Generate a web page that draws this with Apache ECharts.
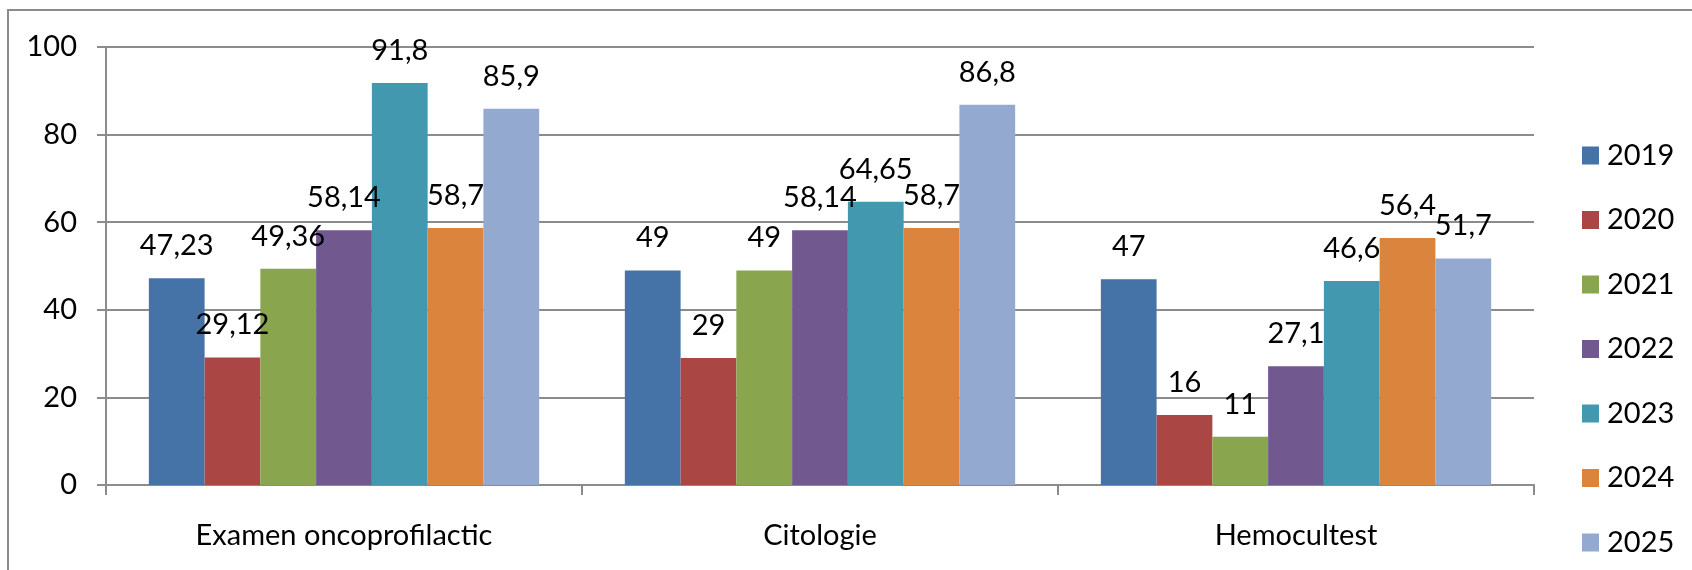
<!DOCTYPE html>
<html>
<head>
<meta charset="utf-8">
<script src="https://cdn.jsdelivr.net/npm/echarts@6/dist/echarts.min.js"></script>
<style>
  html, body { margin: 0; padding: 0; background: #fff; }
  #frame { position: absolute; left: 7px; top: 9px; right: -4px; bottom: -4px; border: 2px solid #8c8c8c; }
  #chart { position: absolute; left: 0; top: 0; width: 1692px; height: 570px; }
</style>
</head>
<body>
<div id="frame"></div>
<div id="chart"></div>
<script>
// Categories and yearly values
var categories = ['Examen oncoprofilactic', 'Citologie', 'Hemocultest'];
var years = ['2019', '2020', '2021', '2022', '2023', '2024', '2025'];
var v2019 = [47.23, 49, 47];
var v2020 = [29.12, 29, 16];
var v2021 = [49.36, 49, 11];
var v2022 = [58.14, 58.14, 27.1];
var v2023 = [91.8, 64.65, 46.6];
var v2024 = [58.7, 58.7, 56.4];
var v2025 = [85.9, 86.8, 51.7];
var yTicks = [0, 20, 40, 60, 80, 100];

var values = [v2019, v2020, v2021, v2022, v2023, v2024, v2025];
var colors = ['#4572A7', '#AA4643', '#89A54E', '#71588F', '#4198AF', '#DB843D', '#93A9CF'];
var font = 'Lato, "Open Sans", sans-serif';

function comma(v) { return String(v).replace('.', ','); }

var chart = echarts.init(document.getElementById('chart'));
chart.setOption({
  animation: false,
  backgroundColor: 'transparent',
  textStyle: { fontFamily: font },
  grid: { left: 106, right: 158, top: 47, bottom: 85, containLabel: false },
  legend: {
    orient: 'vertical',
    left: 1577, top: 136,
    itemWidth: 17, itemHeight: 18, itemGap: 35.5,
    icon: 'rect',
    data: years,
    textStyle: { fontFamily: font, fontSize: 29, lineHeight: 29, color: '#000', padding: [0, 0, 0, 3] }
  },
  xAxis: {
    type: 'category',
    data: categories,
    axisLine: { lineStyle: { color: '#8c8c8c', width: 2 } },
    axisTick: { show: true, length: 10, lineStyle: { color: '#8c8c8c', width: 2 } },
    axisLabel: { color: '#000', fontSize: 29, lineHeight: 29, margin: 36, fontFamily: font },
    splitLine: { show: false }
  },
  yAxis: {
    type: 'value',
    min: yTicks[0], max: yTicks[yTicks.length - 1], interval: 20,
    axisLine: { show: true, lineStyle: { color: '#8c8c8c', width: 2 } },
    axisTick: { show: true, length: 9, lineStyle: { color: '#8c8c8c', width: 2 } },
    axisLabel: { color: '#000', fontSize: 29, margin: 29, fontFamily: font },
    splitLine: { lineStyle: { color: '#8c8c8c', width: 2 } }
  },
  series: years.map(function (y, i) {
    return {
      name: y, type: 'bar', data: values[i],
      barGap: '0%', barCategoryGap: '18%',
      itemStyle: { color: colors[i] },
      label: {
        show: true, position: 'top', distance: 18,
        color: '#000', fontSize: 29, lineHeight: 29, fontFamily: font,
        formatter: function (p) { return comma(p.value); }
      }
    };
  })
});
</script>
</body>
</html>
